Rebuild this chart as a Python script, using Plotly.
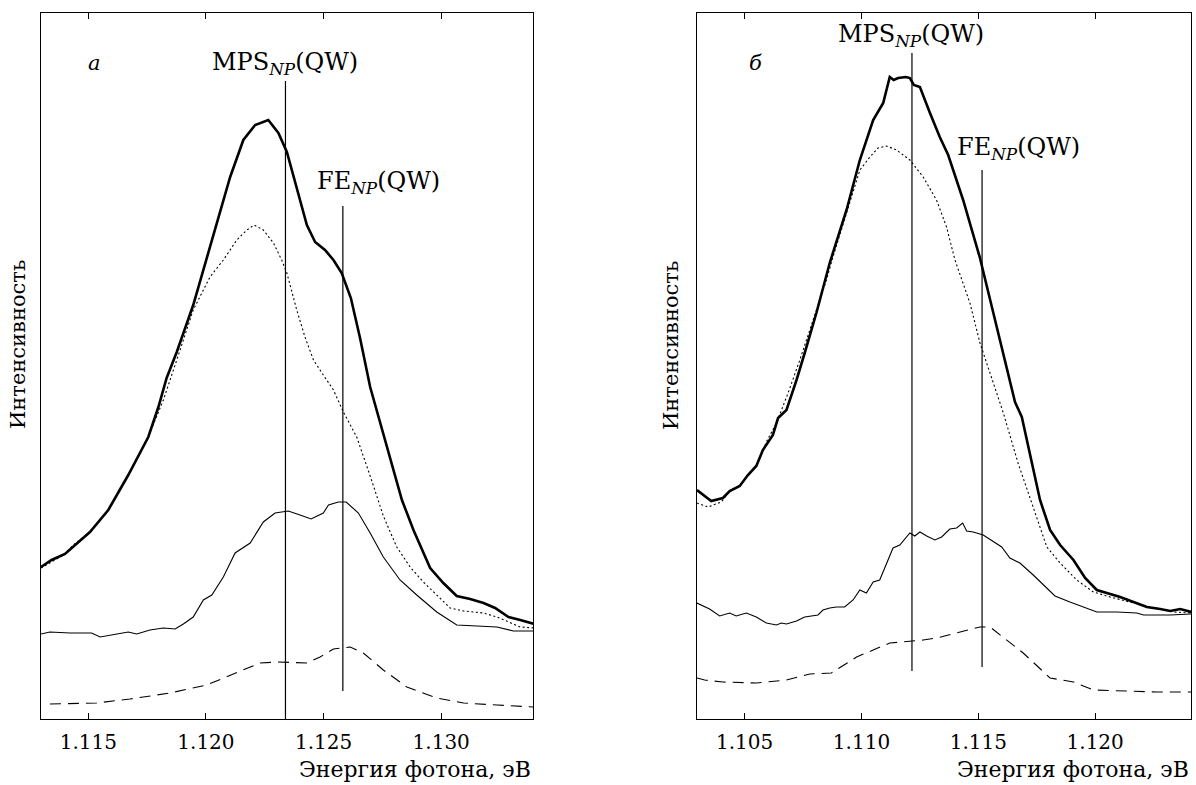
import plotly.graph_objects as go

FONT = "DejaVu Serif, Liberation Serif, serif"

# ---------------- Panel a ----------------
a_total_E = [1.11299, 1.11344, 1.11401, 1.11507, 1.11585, 1.11670, 1.11755, 1.11798, 1.11833, 1.11876,
             1.11946, 1.12002, 1.12103, 1.12159, 1.12209, 1.12265, 1.12308, 1.12344, 1.12386, 1.12429,
             1.12464, 1.12506, 1.12542, 1.12577, 1.12616, 1.12655, 1.12698, 1.12776, 1.12833, 1.12882,
             1.12910, 1.12953, 1.13009, 1.13066, 1.13123, 1.13180, 1.13229, 1.13286, 1.13336, 1.13395]
a_total_I = [152, 159, 165, 187, 209, 244, 282, 312, 341, 367,
             414, 459, 542, 579, 594, 599, 586, 567, 532, 494,
             477, 469, 459, 446, 421, 381, 332, 266, 219, 189,
             174, 151, 136, 123, 120, 116, 111, 102, 99, 95]

a_dot_E = [1.11299, 1.11337, 1.11394, 1.11436, 1.11507, 1.11585, 1.11670, 1.11755, 1.11819, 1.11876,
           1.11946, 1.12017, 1.12074, 1.12131, 1.12174, 1.12205, 1.12244, 1.12287, 1.12322, 1.12344,
           1.12386, 1.12421, 1.12457, 1.12499, 1.12542, 1.12584, 1.12641, 1.12698, 1.12754, 1.12811,
           1.12868, 1.12924, 1.12981, 1.13038, 1.13095, 1.13180, 1.13237, 1.13293, 1.13336, 1.13395]
a_dot_I = [151, 156, 164, 174, 187, 209, 244, 282, 319, 359,
           409, 442, 459, 479, 489, 494, 489, 476, 459, 446,
           409, 382, 359, 344, 329, 307, 282, 243, 203, 172,
           152, 137, 124, 111, 108, 106, 102, 96, 92, 91]

a_thin_E = [1.11299, 1.11337, 1.11422, 1.11514, 1.11550, 1.11621, 1.11670, 1.11706, 1.11762, 1.11819,
            1.11869, 1.11904, 1.11946, 1.11989, 1.12025, 1.12074, 1.12124, 1.12188, 1.12244, 1.12294,
            1.12350, 1.12400, 1.12447, 1.12499, 1.12521, 1.12563, 1.12596, 1.12648, 1.12698, 1.12754,
            1.12825, 1.12896, 1.12981, 1.13066, 1.13152, 1.13237, 1.13307, 1.13395]
a_thin_I = [85, 87, 86, 86, 82, 85, 87, 85, 89, 91,
            90, 95, 102, 119, 124, 142, 166, 176, 197, 206,
            208, 204, 200, 206, 214, 217, 217, 206, 186, 162,
            139, 124, 107, 94, 93, 92, 88, 88]

a_dash_E = [1.11337, 1.11536, 1.11677, 1.11847, 1.12003, 1.12131, 1.12230, 1.12301, 1.12429, 1.12485,
            1.12542, 1.12613, 1.12669, 1.12754, 1.12854, 1.12981, 1.13095, 1.13237, 1.13395]
a_dash_I = [15, 16, 20, 26, 34, 46, 56, 57, 56, 62,
            70, 72, 66, 49, 32, 21, 16, 14, 12]

a_mps_E, a_mps_I = [1.12338, 1.12338], [0, 638]
a_fe_E, a_fe_I = [1.12582, 1.12582], [28, 513]

# ---------------- Panel б ----------------
b_total_E = [1.10296, 1.10357, 1.10407, 1.10436, 1.10479, 1.10514, 1.10550, 1.10578, 1.10621, 1.10643,
             1.10679, 1.10722, 1.10757, 1.10807, 1.10864, 1.10936, 1.10993, 1.11050, 1.11093, 1.11121,
             1.11138, 1.11157, 1.11190, 1.11207, 1.11224, 1.11250, 1.11293, 1.11335, 1.11371, 1.11435,
             1.11507, 1.11564, 1.11628, 1.11657, 1.11686, 1.11725, 1.11764, 1.11807, 1.11850, 1.11907,
             1.11957, 1.12007, 1.12050, 1.12107, 1.12164, 1.12221, 1.12278, 1.12321, 1.12364, 1.12411]
b_total_I = [229, 218, 221, 228, 233, 244, 253, 269, 284, 301,
             309, 339, 366, 406, 456, 509, 559, 599, 616, 642,
             639, 641, 642, 641, 634, 632, 606, 582, 564, 519,
             461, 406, 346, 317, 302, 259, 219, 189, 174, 159,
             141, 129, 126, 122, 117, 112, 110, 108, 110, 107]

b_dot_E = [1.10296, 1.10343, 1.10400, 1.10436, 1.10479, 1.10514, 1.10550, 1.10593, 1.10636, 1.10686,
           1.10736, 1.10793, 1.10850, 1.10878, 1.10936, 1.10993, 1.11036, 1.11071, 1.11107, 1.11150,
           1.11207, 1.11264, 1.11321, 1.11364, 1.11400, 1.11464, 1.11507, 1.11550, 1.11607, 1.11670,
           1.11750, 1.11793, 1.11850, 1.11921, 1.11992, 1.12064, 1.12164, 1.12264, 1.12335, 1.12411]
b_dot_I = [216, 212, 217, 228, 233, 244, 253, 277, 296, 326,
           359, 399, 439, 462, 506, 549, 562, 571, 573, 569,
           559, 542, 519, 492, 459, 416, 376, 346, 306, 256,
           201, 172, 156, 139, 127, 122, 116, 111, 107, 106]

b_thin_E = [1.10296, 1.10350, 1.10393, 1.10436, 1.10464, 1.10507, 1.10550, 1.10593, 1.10636, 1.10657,
            1.10679, 1.10722, 1.10757, 1.10814, 1.10835, 1.10864, 1.10893, 1.10928, 1.10964, 1.10993,
            1.11021, 1.11050, 1.11078, 1.11107, 1.11135, 1.11164, 1.11207, 1.11228, 1.11250, 1.11279,
            1.11314, 1.11343, 1.11378, 1.11407, 1.11433, 1.11450, 1.11478, 1.11521, 1.11564, 1.11600,
            1.11635, 1.11678, 1.11735, 1.11778, 1.11828, 1.11892, 1.11949, 1.12007, 1.12093, 1.12178,
            1.12207, 1.12321, 1.12411]
b_thin_I = [116, 110, 103, 106, 103, 106, 102, 96, 94, 96,
            95, 98, 102, 104, 109, 111, 112, 112, 119, 129,
            126, 137, 139, 156, 171, 174, 186, 183, 187, 183,
            179, 182, 190, 191, 196, 188, 187, 184, 177, 172,
            161, 156, 144, 134, 123, 117, 112, 107, 107, 106,
            104, 104, 105]

b_dash_E = [1.10296, 1.10329, 1.10407, 1.10550, 1.10679, 1.10779, 1.10871, 1.10979, 1.11121, 1.11264,
            1.11321, 1.11407, 1.11507, 1.11550, 1.11692, 1.11807, 1.11907, 1.11992, 1.12121, 1.12264,
            1.12411]
b_dash_I = [41, 39, 37, 36, 39, 45, 46, 62, 76, 79,
            81, 86, 92, 92, 66, 41, 37, 29, 28, 27,
            27]

b_mps_E, b_mps_I = [1.11216, 1.11216], [48, 666]
b_fe_E, b_fe_I = [1.11516, 1.11516], [52, 549]

tick_vals_a = [1.115, 1.120, 1.125, 1.130]
tick_text_a = ["1.115", "1.120", "1.125", "1.130"]
tick_vals_b = [1.105, 1.110, 1.115, 1.120]
tick_text_b = ["1.105", "1.110", "1.115", "1.120"]

x_title = "Энергия фотона, эВ"
y_title = "Интенсивность"

fig = go.Figure()


def add_panel(xa, ya, tot, dot, thin, dash, mps, fe):
    common = dict(xaxis=xa, yaxis=ya, mode="lines", showlegend=False, hoverinfo="skip")
    fig.add_trace(go.Scatter(x=dash[0], y=dash[1], line=dict(color="black", width=1.1, dash="11px,7px"), **common))
    fig.add_trace(go.Scatter(x=thin[0], y=thin[1], line=dict(color="black", width=1.1), **common))
    fig.add_trace(go.Scatter(x=dot[0], y=dot[1], line=dict(color="black", width=1.1, dash="2px,2.5px"), **common))
    fig.add_trace(go.Scatter(x=tot[0], y=tot[1], line=dict(color="black", width=2.6), **common))
    fig.add_trace(go.Scatter(x=mps[0], y=mps[1], line=dict(color="black", width=1.2), **common))
    fig.add_trace(go.Scatter(x=fe[0], y=fe[1], line=dict(color="black", width=1.2), **common))


add_panel("x", "y", (a_total_E, a_total_I), (a_dot_E, a_dot_I), (a_thin_E, a_thin_I),
          (a_dash_E, a_dash_I), (a_mps_E, a_mps_I), (a_fe_E, a_fe_I))
add_panel("x2", "y2", (b_total_E, b_total_I), (b_dot_E, b_dot_I), (b_thin_E, b_thin_I),
          (b_dash_E, b_dash_I), (b_mps_E, b_mps_I), (b_fe_E, b_fe_I))

xcommon = dict(showline=True, linecolor="black", linewidth=1, mirror="ticks", ticks="inside",
               ticklen=6, tickwidth=1, tickcolor="black", showgrid=False, zeroline=False,
               tickfont=dict(family=FONT, size=20, color="black"), ticklabelstandoff=5)
ycommon = dict(showline=True, linecolor="black", linewidth=1, mirror=True, ticks="",
               showticklabels=False, showgrid=False, zeroline=False, range=[0, 706])

fig.update_layout(
    width=1196, height=785,
    margin=dict(l=41, r=5, t=13, b=66),
    paper_bgcolor="white", plot_bgcolor="white",
    xaxis=dict(domain=[0, 0.4278], range=[1.11299, 1.1339], tickvals=tick_vals_a, ticktext=tick_text_a, **xcommon),
    yaxis=dict(domain=[0, 1], anchor="x", **ycommon),
    xaxis2=dict(domain=[0.5704, 1.0], range=[1.10296, 1.1241], tickvals=tick_vals_b, ticktext=tick_text_b,
                anchor="y2", **xcommon),
    yaxis2=dict(domain=[0, 1], anchor="x2", **ycommon),
    font=dict(family=FONT, color="black"),
)

lab_font = dict(family=FONT, size=24, color="black")
ann = [
    dict(x=1.12338, y=656, xref="x", yref="y", text="MPS<sub><i>NP</i></sub>(QW)"),
    dict(x=1.12732, y=537, xref="x", yref="y", text="FE<sub><i>NP</i></sub>(QW)"),
    dict(x=1.11525, y=656, xref="x", yref="y", text="<i>a</i>"),
    dict(x=1.11210, y=684, xref="x2", yref="y2", text="MPS<sub><i>NP</i></sub>(QW)"),
    dict(x=1.11670, y=571, xref="x2", yref="y2", text="FE<sub><i>NP</i></sub>(QW)"),
    dict(x=1.10547, y=656, xref="x2", yref="y2", text="<i>б</i>"),
]
for a in ann:
    fs = lab_font if "QW" in a["text"] else dict(family=FONT, size=21, color="black")
    fig.add_annotation(showarrow=False, xanchor="center", yanchor="middle", font=fs, **a)

for xr in ["x domain", "x2 domain"]:
    fig.add_annotation(text=x_title, xref=xr, x=1.0, xanchor="right", yref="paper", y=-0.0722,
                       yanchor="middle", showarrow=False, font=dict(family=FONT, size=22, color="black"))
for xp in [-0.02, 0.5478]:
    fig.add_annotation(text=y_title, xref="paper", x=xp, xanchor="center", yref="paper", y=0.5297,
                       yanchor="middle", textangle=-90, showarrow=False,
                       font=dict(family=FONT, size=21, color="black"))

fig.write_html("out.html", config={"displayModeBar": False},
               post_script="document.body.style.margin='0px';")
